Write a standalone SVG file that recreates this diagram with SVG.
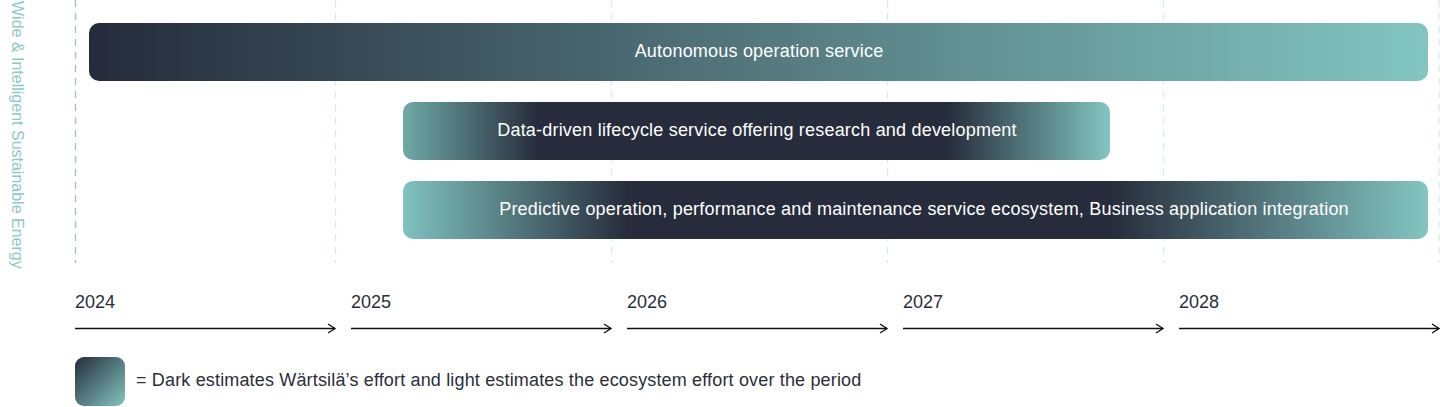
<svg xmlns="http://www.w3.org/2000/svg" width="1440" height="407" viewBox="0 0 1440 407">
  <defs>
    <linearGradient id="g1" x1="0" y1="0" x2="1" y2="0">
      <stop offset="0" stop-color="#252b3a"/>
      <stop offset="1" stop-color="#82c5c1"/>
    </linearGradient>
    <linearGradient id="g2" x1="0" y1="0" x2="1" y2="0">
      <stop offset="0" stop-color="#6fa9a8"/>
      <stop offset="0.19" stop-color="#262c3b"/>
      <stop offset="0.77" stop-color="#262c3b"/>
      <stop offset="1" stop-color="#82c5c1"/>
    </linearGradient>
    <linearGradient id="g3" x1="0" y1="0" x2="1" y2="0">
      <stop offset="0" stop-color="#7fc2bf"/>
      <stop offset="0.22" stop-color="#262c3b"/>
      <stop offset="0.69" stop-color="#262c3b"/>
      <stop offset="1" stop-color="#82c5c1"/>
    </linearGradient>
    <linearGradient id="gl" x1="0" y1="0" x2="1" y2="1">
      <stop offset="0" stop-color="#262c3b"/>
      <stop offset="1" stop-color="#82c5c1"/>
    </linearGradient>
    <marker id="arr" markerWidth="12" markerHeight="12" refX="9" refY="6" orient="auto" markerUnits="userSpaceOnUse">
      <path d="M2,1.5 L9,6 L2,10.5" fill="none" stroke="#111" stroke-width="1.3"/>
    </marker>
  </defs>
  <style>
    text { font-family: "Liberation Sans", Arial, sans-serif; }
    .bar-label { font-size: 18px; fill: #ffffff; text-anchor: middle; letter-spacing: 0.2px; }
    .year { font-size: 18px; fill: #2a2f3a; }
    .grid { stroke: #d7ecea; stroke-width: 1.3; stroke-dasharray: 7 6; }
    .grid0 { stroke: #8fc8c4; }
    .axis { stroke: #111; stroke-width: 1.4; fill: none; }
  </style>
  <rect width="1440" height="407" fill="#ffffff"/>

  <text x="1" y="0" transform="translate(12,0) rotate(90)" font-size="16" fill="#8ccac5">Wide &amp; Intelligent Sustainable Energy</text>

  <g id="gridlines">
    <line class="grid grid0" x1="75.5" y1="0" x2="75.5" y2="263"/>
    <line class="grid" x1="335.5" y1="0" x2="335.5" y2="263"/>
    <line class="grid" x1="611.5" y1="0" x2="611.5" y2="263"/>
    <line class="grid" x1="887.5" y1="0" x2="887.5" y2="263"/>
    <line class="grid" x1="1163.5" y1="0" x2="1163.5" y2="263"/>
    <line class="grid" x1="1439" y1="0" x2="1439" y2="263"/>
  </g>

  <g id="bar-autonomous">
    <rect x="89" y="23" width="1339" height="58" rx="10" fill="url(#g1)"/>
    <text class="bar-label" x="759" y="57">Autonomous operation service</text>
  </g>
  <g id="bar-datadriven">
    <rect x="403" y="102" width="707" height="58" rx="10" fill="url(#g2)"/>
    <text class="bar-label" x="757" y="136">Data-driven lifecycle service offering research and development</text>
  </g>
  <g id="bar-predictive">
    <rect x="403" y="181" width="1025" height="58" rx="10" fill="url(#g3)"/>
    <text class="bar-label" x="924" y="215">Predictive operation, performance and maintenance service ecosystem, Business application integration</text>
  </g>

  <g id="years">
    <text class="year" x="75" y="308">2024</text>
    <text class="year" x="351" y="308">2025</text>
    <text class="year" x="627" y="308">2026</text>
    <text class="year" x="903" y="308">2027</text>
    <text class="year" x="1179" y="308">2028</text>
  </g>

  <g id="connectors">
    <line class="axis" x1="75" y1="328.5" x2="335" y2="328.5" marker-end="url(#arr)"/>
    <line class="axis" x1="351" y1="328.5" x2="611" y2="328.5" marker-end="url(#arr)"/>
    <line class="axis" x1="627" y1="328.5" x2="887" y2="328.5" marker-end="url(#arr)"/>
    <line class="axis" x1="903" y1="328.5" x2="1163" y2="328.5" marker-end="url(#arr)"/>
    <line class="axis" x1="1179" y1="328.5" x2="1439" y2="328.5" marker-end="url(#arr)"/>
  </g>

  <g id="legend">
    <rect x="75" y="357" width="50" height="49" rx="9" fill="url(#gl)"/>
    <text x="136" y="386" font-size="18" fill="#2a2f3a" letter-spacing="0.16">= Dark estimates Wärtsilä’s effort and light estimates the ecosystem effort over the period</text>
  </g>
</svg>
